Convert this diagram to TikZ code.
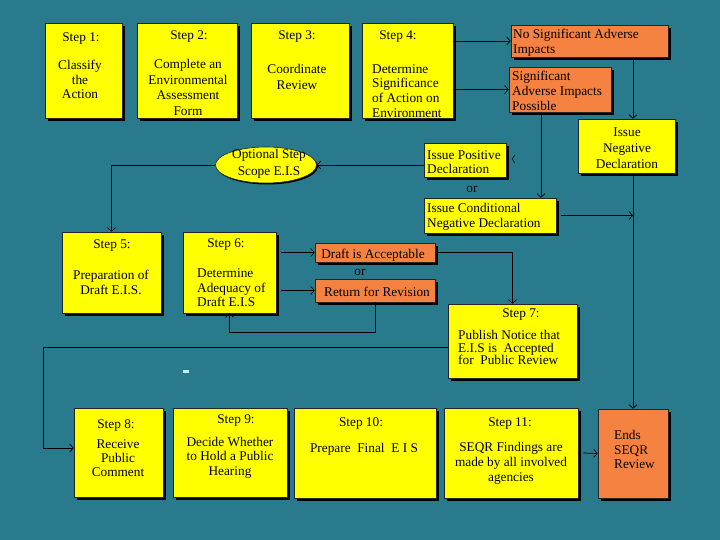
\documentclass[tikz,border=0pt]{standalone}
\usepackage{fontspec}
\setmainfont{Liberation Serif}
\usetikzlibrary{shadows,arrows.meta,shapes.geometric}
\definecolor{bg}{RGB}{42,122,142}
\definecolor{yel}{RGB}{255,255,0}
\definecolor{ora}{RGB}{245,130,65}
\definecolor{specklecol}{RGB}{200,235,245}
\newcommand\fs[1]{\fontsize{13.3}{#1}\selectfont}
\newcommand\bx[6]{\node[#6, minimum width={(#4-#2)*1pt}, minimum height={(#5-#3)*1pt}] (#1) at ({(#2+#4)/2},{(#3+#5)/2}) {};}
\tikzset{
  box/.style={draw=black!85, line width=0.6pt, inner sep=0pt,
    drop shadow={shadow xshift=3pt, shadow yshift=-3pt, fill=black, opacity=1}},
  ybox/.style={box, fill=yel},
  obox/.style={box, fill=ora},
  txt/.style={inner sep=0pt, font=\fs{15}, align=center, text=black, yshift=-2pt},
  ltxt/.style={txt, align=left, anchor=west},
  arr/.style={draw=black, line width=0.7pt, -{Straight Barb[length=3.5pt,width=8pt]}},
  thinline/.style={draw=black, line width=0.5pt}
}
\begin{document}
\begin{tikzpicture}[x=1pt,y=-1pt]
\fill[bg] (0,0) rectangle (720,540);
\useasboundingbox (0,0) rectangle (720,540);

% boxes
\bx{s1}{45}{23}{122}{118}{ybox}
\bx{s2}{137}{23}{237}{118}{ybox}
\bx{s3}{251}{23}{349}{118}{ybox}
\bx{s4}{362}{23}{453}{118}{ybox}
\bx{nosig}{511}{25}{668}{57}{obox}
\bx{sig}{509}{67}{611}{112}{obox}
\bx{neg}{578}{119}{675}{173}{ybox}
\bx{pos}{424}{143}{506}{177}{ybox}
\bx{cond}{424}{198}{556}{233}{ybox}
\node[ellipse, draw=black!85, line width=0.6pt, fill=yel, inner sep=0pt,
  minimum width=101pt, minimum height=36pt,
  drop shadow={shadow xshift=1.5pt, shadow yshift=-1.5pt, fill=black, opacity=1}] (opt) at (266,165) {};
\bx{s5}{62}{232}{161}{313}{ybox}
\bx{s6}{183}{232}{276}{313}{ybox}
\bx{draft}{315}{243}{435}{262}{obox}
\bx{rev}{315}{279}{435}{302}{obox}
\bx{s7}{448}{304}{577}{378}{ybox}
\bx{s8}{74}{408}{163}{497}{ybox}
\bx{s9}{173}{408}{287}{497}{ybox}
\bx{s10}{294}{408}{436}{498}{ybox}
\bx{s11}{444}{408}{578}{498}{ybox}
\bx{ends}{598}{409}{668}{498}{obox}

% texts
\node[txt] (t1h) at (81,37) {Step 1:};
\node[txt, font=\fs{14.5}] (t1b) at (80,77.5) {Classify\\the\\Action};
\node[txt] (t2h) at (189,35) {Step 2:};
\node[txt, font=\fs{15.5}] (t2b) at (188,85.5) {Complete an\\Environmental\\Assessment\\Form};
\node[txt] (t3h) at (297,35) {Step 3:};
\node[txt, font=\fs{16}] (t3b) at (297,75) {Coordinate\\Review};
\node[txt] (t4h) at (398,35) {Step 4:};
\node[ltxt, font=\fs{14.7}] (t4b) at (372,89) {Determine\\Significance\\of Action on\\Environment};
\node[ltxt] (tnosig) at (513,40.5) {No Significant Adverse\\Impacts};
\node[ltxt] (tsig) at (512,89) {Significant\\Adverse Impacts\\Possible};
\node[txt, font=\fs{16}] (tneg) at (627,146) {Issue\\Negative\\Declaration};
\node[ltxt, font=\fs{14}] (tpos) at (427,160) {Issue Positive\\Declaration};
\node[txt] (or1) at (472,187) {or};
\node[ltxt] (tcond) at (427,214.5) {Issue Conditional\\Negative Declaration};
\node[txt, font=\fs{17}] (topt) at (269,162) {Optional Step\\Scope E.I.S};
\node[txt] (t5h) at (112,244) {Step 5:};
\node[txt] (t5b) at (111,280.5) {Preparation of\\Draft E.I.S.};
\node[txt] (t6h) at (226,243) {Step 6:};
\node[ltxt, font=\fs{14.5}] (t6b) at (197,286) {Determine\\Adequacy of\\Draft E.I.S};
\node[txt] (tdraft) at (373,253) {Draft is Acceptable};
\node[txt] (or2) at (360,270.5) {or};
\node[txt] (trev) at (377,290) {Return for Revision};
\node[txt] (t7h) at (521,313) {Step 7:};
\node[ltxt, font=\fs{12.5}] (t7b) at (458,345.5) {Publish Notice that\\E.I.S is\ \ Accepted\\for\ \ Public Review};
\node[txt] (t8h) at (116,423) {Step 8:};
\node[txt, font=\fs{14}] (t8b) at (118,456) {Receive\\Public\\Comment};
\node[txt] (t9h) at (236,419) {Step 9:};
\node[txt, font=\fs{14.5}] (t9b) at (230,455.5) {Decide Whether\\to Hold a Public\\Hearing};
\node[txt] (t10h) at (361,421) {Step 10:};
\node[txt] (t10b) at (364,447) {Prepare\ \ Final\ \ E I S};
\node[txt] (t11h) at (510,422) {Step 11:};
\node[txt] (t11b) at (511,461) {SEQR Findings are\\made by all involved\\agencies};
\node[ltxt, font=\fs{14.5}] (tends) at (614,447.5) {Ends\\SEQR\\Review};

% helper coordinates
\coordinate (xA) at (633,0);
\coordinate (xB) at (541,0);
\coordinate (xL) at (43,0);
\coordinate (y347) at (0,347);
\coordinate (y448) at (0,448);
\coordinate (y332) at (0,332);

% connectors
\draw[arr] (s4.east |- nosig.west) -- (nosig.west);
\draw[arr] (s4.east |- sig.west) -- (sig.west);
\draw[arr] (nosig.south -| xA) -- (neg.north -| xA);
\draw[arr] (sig.south -| xB) -- (cond.north -| xB);
\draw[arr] (pos.west |- opt.east) -- (opt.east);
\draw[arr] (opt.west) -| (s5.north);
\draw[arr] ([yshift=-3pt]neg.south -| ends.north) -- (ends.north);
\draw[arr] ([xshift=5pt]cond.east) -- (cond.east -| ends.north);
\draw[arr] ([xshift=5pt]s6.east |- draft.west) -- (draft.west);
\draw[arr] ([xshift=5pt]s6.east |- rev.west) -- (rev.west);
\draw[arr] (draft.east) -| (s7.north);
\draw[arr] (rev.south) -- (rev.south |- y332) -| (s6.south);
\draw[arr] (s7.west |- y347) -- (xL |- y347) -- (xL |- y448) -- (s8.west |- y448);
\draw[arr] ([xshift=5pt]s11.east) -- (ends.west);

% stray marks
\draw[thinline] (515,155) -- (512,159) -- (515,163);
\fill[specklecol] (183,370) rectangle (189,373);
\end{tikzpicture}
\end{document}
